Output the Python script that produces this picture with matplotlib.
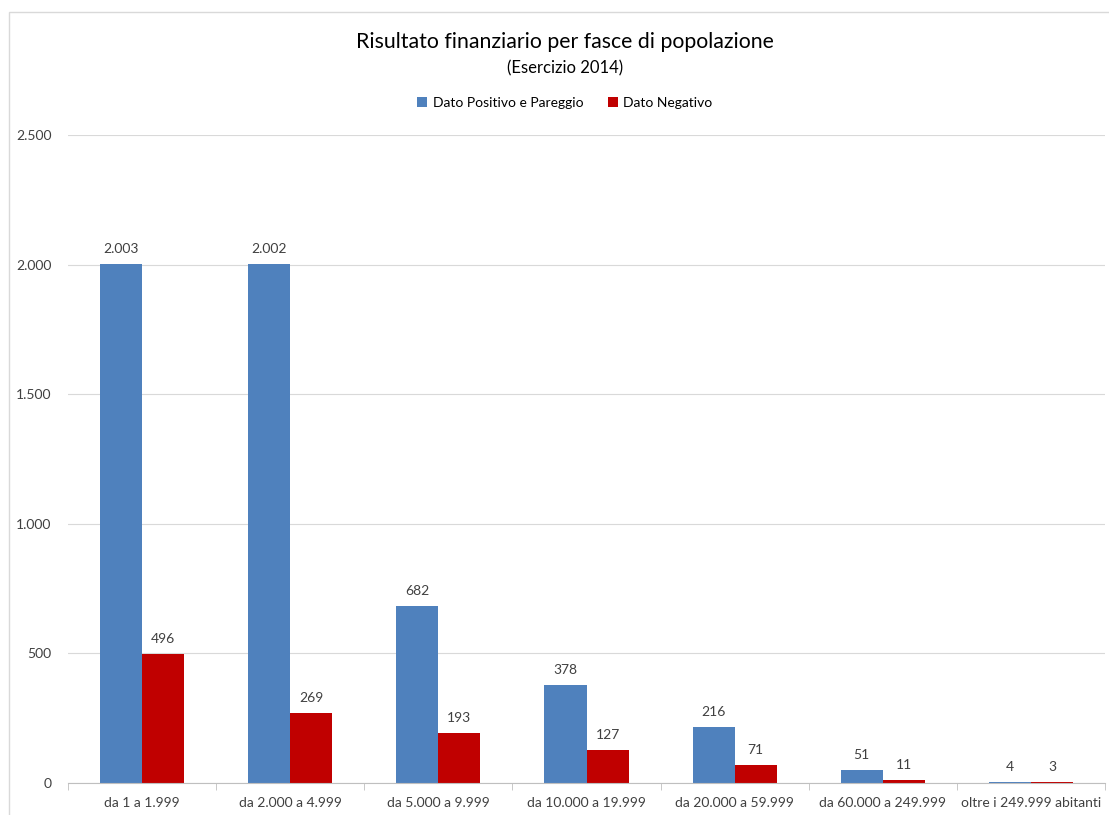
import numpy as np
import matplotlib.pyplot as plt
from matplotlib.patches import Rectangle
from matplotlib.ticker import FuncFormatter

categorie = ['da 1 a 1.999', 'da 2.000 a 4.999', 'da 5.000 a 9.999', 'da 10.000 a 19.999',
             'da 20.000 a 59.999', 'da 60.000 a 249.999', 'oltre i 249.999 abitanti']
positivo = [2003, 2002, 682, 378, 216, 51, 4]
negativo = [496, 269, 193, 127, 71, 11, 3]

plt.rcParams['font.family'] = ['Lato', 'DejaVu Sans']

fig = plt.figure(figsize=(11.09, 8.15), dpi=100)
ax = fig.add_axes([68 / 1109, 32 / 815, 1037 / 1109, 648 / 815])

x = np.arange(len(categorie))
w = 0.284
b1 = ax.bar(x - w / 2, positivo, w, color='#4F81BD', label='Dato Positivo e Pareggio')
b2 = ax.bar(x + w / 2, negativo, w, color='#C00000', label='Dato Negativo')

fmt = lambda v: f'{int(v):,}'.replace(',', '.')
for bars in (b1, b2):
    for r in bars:
        h = r.get_height()
        ax.text(r.get_x() + r.get_width() / 2, h + 35, fmt(h), ha='center', va='bottom',
                fontsize=10, color='#404040')

ax.set_xlim(-0.5, len(categorie) - 0.5)
ax.set_ylim(0, 2500)
ax.set_yticks(np.arange(0, 2501, 500))
ax.yaxis.set_major_formatter(FuncFormatter(lambda v, p: fmt(v)))
ax.yaxis.grid(True, color='#D9D9D9', linewidth=0.8)
ax.set_axisbelow(True)

ax.set_xticks(x)
ax.set_xticklabels(categorie, fontsize=10, color='#404040')
ax.set_xticks(np.arange(-0.5, len(categorie)), minor=True)
ax.tick_params(axis='x', which='major', length=0, pad=10)
ax.tick_params(axis='x', which='minor', length=5, color='#BFBFBF')
ax.tick_params(axis='y', length=0, labelsize=10, labelcolor='#404040', pad=12)

for s in ['top', 'right', 'left']:
    ax.spines[s].set_visible(False)
ax.spines['bottom'].set_color('#BFBFBF')

fig.text(565 / 1109, 1 - 42 / 815, 'Risultato finanziario per fasce di popolazione',
         ha='center', va='center', fontsize=15.3, color='#000000')
fig.text(565 / 1109, 1 - 68 / 815, '(Esercizio 2014)', ha='center', va='center',
         fontsize=12, color='#000000')
fig.legend(loc='center', bbox_to_anchor=(565 / 1109, 1 - 103 / 815), ncol=2, frameon=False,
           fontsize=10, handlelength=0.7, handleheight=0.7, columnspacing=1.8, handletextpad=0.4)

fig.patches.append(Rectangle((9 / 1109, -0.01), 1.1, 1 - 12 / 815 + 0.01, transform=fig.transFigure,
                             fill=False, edgecolor='#D9D9D9', linewidth=1))

fig.savefig('out.png', dpi=100)
